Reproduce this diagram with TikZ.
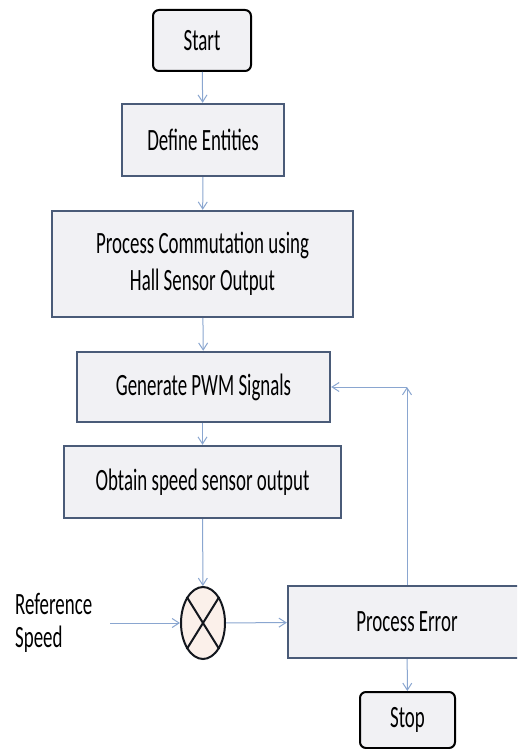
\documentclass[tikz,border=0pt]{standalone}
\usepackage{fontspec}
\setmainfont{Carlito}[FakeStretch=0.61]
\usetikzlibrary{arrows.meta,shapes.geometric}

\definecolor{boxline}{HTML}{4A5B78}
\definecolor{boxfill}{HTML}{F1F1F4}
\definecolor{arrline}{HTML}{8AA6D0}
\definecolor{sumfill}{HTML}{FBF0EA}

\tikzset{
		procbox/.style = {shape=rectangle, draw=boxline, fill=boxfill,
				line width=2.4pt, align=center, inner sep=0pt,
				font=\fontsize{31}{37}\selectfont},
		termbox/.style = {procbox, draw=black, line width=2pt, rounded corners=6pt},
		sumnode/.style = {ellipse, draw=black!75!boxline, fill=sumfill,
				line width=2pt, inner sep=0pt, minimum width=44pt, minimum height=72pt},
		arr/.style     = {draw=arrline, line width=1pt,
				-{Straight Barb[length=7pt,width=9pt]}}
	}

\begin{document}
\begin{tikzpicture}[x=1pt, y=-1pt]
				\clip (0,0) rectangle (517,749);
				\node [termbox, minimum width=98pt, minimum height=61pt] (start) at (202,40.5) {Start};
				\node [procbox, minimum width=162pt, minimum height=72pt] (def) at (203,140) {Define Entities};
				\node [procbox, minimum width=301pt, minimum height=106pt] (comm) at (202.5,264) {Process Commutation using\\Hall Sensor Output};
				\node [procbox, minimum width=253pt, minimum height=70pt] (pwm) at (203.5,387) {Generate PWM Signals};
				\node [procbox, minimum width=277pt, minimum height=72pt] (speed) at (202.5,482) {Obtain speed sensor output};
				\node [sumnode] (sum) at (203,623) {};
				\draw [black!75!boxline, line width=2pt] (sum.north west) -- (sum.south east)
						(sum.north east) -- (sum.south west);
				\node [procbox, minimum width=238pt, minimum height=72pt] (err) at (407,622) {Process Error};
				\node [termbox, minimum width=95pt, minimum height=56pt] (stop) at (407.5,720) {Stop};
				\node [font=\fontsize{31}{33}\selectfont, align=left, anchor=west, inner sep=0pt] (ref) at (15,623) {Reference\\Speed};
				\coordinate (refin) at (110,623);
				\coordinate (fbk) at (err.north |- pwm.east);
				% main flow
				\draw [arr] (start) -- (def);
				\draw [arr] (def) -- (comm);
				\draw [arr] (comm) -- (pwm);
				\draw [arr] (pwm.south -| speed.north) -- (speed);
				\draw [arr] (speed) -- (sum);
				\draw [arr] (refin) -- (sum);
				\draw [arr] (sum) -- (err);
				\draw [arr] (err) -- (stop);
				% feedback
				\draw [arr] (err.north) -- (fbk);
				\draw [arr] (fbk) -- (pwm.east);
			\end{tikzpicture}
\end{document}
